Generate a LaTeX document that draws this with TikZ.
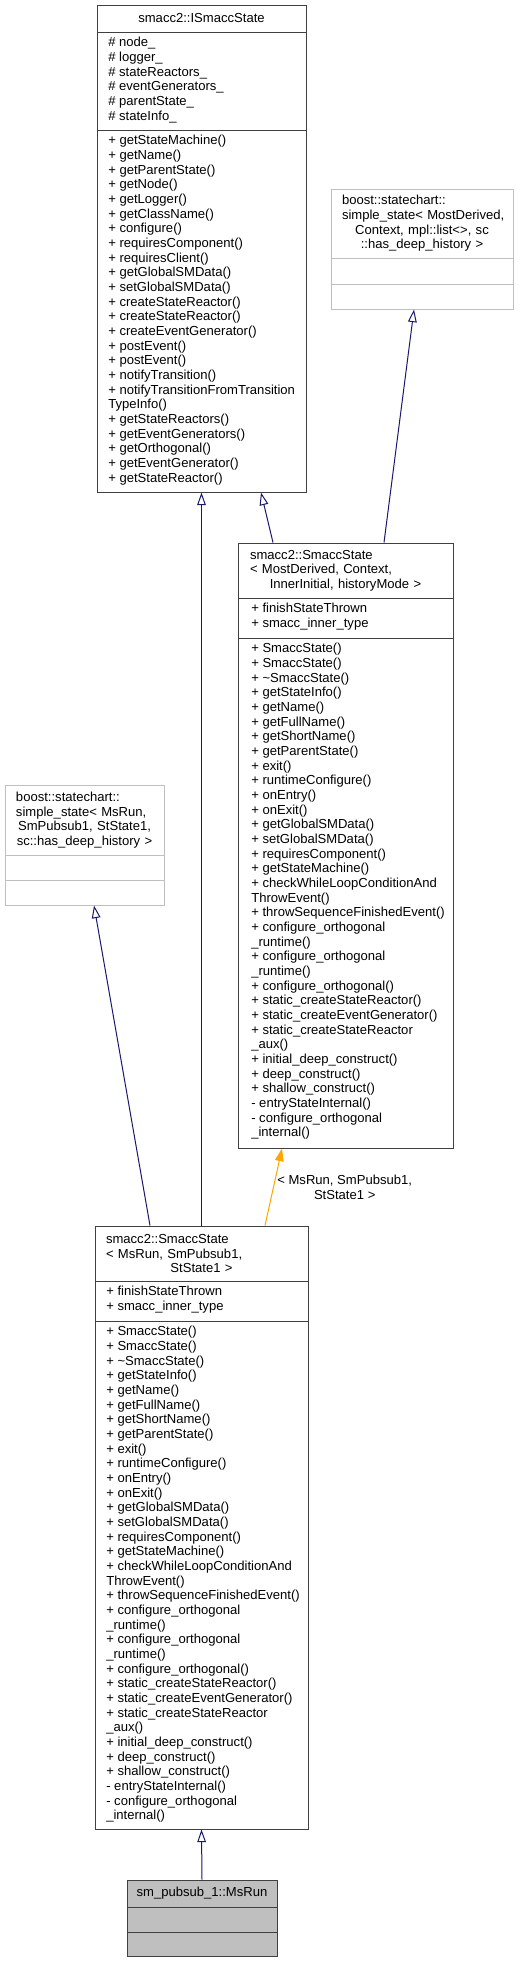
\documentclass[tikz,border=0pt]{standalone}
\usepackage{fontspec}
\setmainfont{Liberation Sans}
\usetikzlibrary{arrows.meta,calc,fit}
\definecolor{EdgeBlue}{HTML}{191970}
\definecolor{EdgeOrange}{HTML}{FFA500}
\definecolor{GreyFill}{HTML}{BFBFBF}
\definecolor{BoxBorder}{HTML}{404040}

\newcommand{\flushln}[1]{\makebox[\linewidth][l]{#1}}
\newcommand{\centerln}[1]{\makebox[\linewidth][c]{#1}}

% membros partilhados pelas duas caixas SmaccState
\newcommand{\SmaccStateAttrs}{+ finishStateThrown\\+ smacc\_inner\_type}
\newcommand{\SmaccStateOps}{%
+ SmaccState()\\+ SmaccState()\\+ \textasciitilde SmaccState()\\+ getStateInfo()\\%
+ getName()\\+ getFullName()\\+ getShortName()\\+ getParentState()\\+ exit()\\%
+ runtimeConfigure()\\+ onEntry()\\+ onExit()\\+ getGlobalSMData()\\%
+ setGlobalSMData()\\+ requiresComponent()\\+ getStateMachine()\\%
+ checkWhileLoopConditionAnd\\ThrowEvent()\\+ throwSequenceFinishedEvent()\\%
+ configure\_orthogonal\\\_runtime()\\+ configure\_orthogonal\\\_runtime()\\%
+ configure\_orthogonal()\\+ static\_createStateReactor()\\%
+ static\_createEventGenerator()\\+ static\_createStateReactor\\\_aux()\\%
+ initial\_deep\_construct()\\+ deep\_construct()\\+ shallow\_construct()\\%
- entryStateInternal()\\- configure\_orthogonal\\\_internal()}

\begin{document}
\begin{tikzpicture}[
    x=0.75pt, y=-0.75pt,
    font=\fontsize{9.8}{11}\selectfont,
    classbox/.style={draw=BoxBorder, fill=white, line width=0.75pt, inner sep=0pt},
    extbox/.style={classbox, draw=GreyFill},
    curbox/.style={classbox, fill=GreyFill},
    rowline/.style={draw=BoxBorder, line width=0.75pt},
    extline/.style={draw=GreyFill, line width=0.75pt},
    heading/.style={align=center, inner sep=0pt},
    members/.style={anchor=north west, align=left, inner sep=0pt},
    inherit/.style={draw=EdgeBlue, line width=0.75pt, -{Triangle[open, length=9.5pt, width=6.5pt]}},
    instance/.style={draw=EdgeOrange, line width=0.75pt, -{Triangle[length=9.5pt, width=6.5pt, fill=EdgeOrange]}}
]
  \fill[white] (0,0) rectangle (519,1963);
  \useasboundingbox (0,0) rectangle (519,1963);

  % =========================================================================
  % smacc2::ISmaccState
  % =========================================================================
  \node[classbox, fit={(97,5) (306,492)}] (istate) {};
  \draw[rowline] (97,32) -- (306,32);
  \draw[rowline] (97,130) -- (306,130);
  \node[heading] (istate_name) at (201.5,18.5) {smacc2::ISmaccState};
  \node[members] (istate_attr) at (108,37) {\# node\_\\\# logger\_\\\# stateReactors\_\\\# eventGenerators\_\\\# parentState\_\\\# stateInfo\_};
  \node[members] (istate_ops) at (108,135) {+ getStateMachine()\\+ getName()\\+ getParentState()\\+ getNode()\\+ getLogger()\\+ getClassName()\\+ configure()\\+ requiresComponent()\\+ requiresClient()\\+ getGlobalSMData()\\+ setGlobalSMData()\\+ createStateReactor()\\+ createStateReactor()\\+ createEventGenerator()\\+ postEvent()\\+ postEvent()\\+ notifyTransition()\\+ notifyTransitionFromTransition\\TypeInfo()\\+ getStateReactors()\\+ getEventGenerators()\\+ getOrthogonal()\\+ getEventGenerator()\\+ getStateReactor()};

  % =========================================================================
  % boost::statechart::simple_state (template)
  % =========================================================================
  \node[extbox, fit={(331,189) (513,309)}] (btmpl) {};
  \draw[extline] (331,258) -- (513,258);
  \draw[extline] (331,284) -- (513,284);
  \node[heading, text width=120pt] (btmpl_name) at (422,223.5) {\flushln{boost::statechart::}\\\flushln{simple\_state< MostDerived,}\\\centerln{Context, mpl::list<>, sc}\\\centerln{::has\_deep\_history >}};

  % =========================================================================
  % smacc2::SmaccState (template)
  % =========================================================================
  \node[classbox, fit={(238,543) (453,1148)}] (stmpl) {};
  \draw[rowline] (238,598) -- (453,598);
  \draw[rowline] (238,638) -- (453,638);
  \node[heading, text width=143.25pt] (stmpl_name) at (345.5,570.5) {\flushln{smacc2::SmaccState}\\\flushln{< MostDerived, Context,}\\\centerln{InnerInitial, historyMode >}};
  \node[members] (stmpl_attr) at (251,603) {\SmaccStateAttrs};
  \node[members] (stmpl_ops) at (251,643) {\SmaccStateOps};

  % =========================================================================
  % boost::statechart::simple_state< MsRun, ... >
  % =========================================================================
  \node[extbox, fit={(5,785) (164,905)}] (bsub) {};
  \draw[extline] (5,855) -- (164,855);
  \draw[extline] (5,880) -- (164,880);
  \node[heading, text width=102.75pt] (bsub_name) at (84.5,820) {\flushln{boost::statechart::}\\\flushln{simple\_state< MsRun,}\\\centerln{SmPubsub1, StState1,}\\\centerln{sc::has\_deep\_history >}};

  % =========================================================================
  % smacc2::SmaccState< MsRun, SmPubsub1, StState1 >
  % =========================================================================
  \node[classbox, fit={(95,1226) (308,1829)}] (ssub) {};
  \draw[rowline] (95,1281) -- (308,1281);
  \draw[rowline] (95,1321) -- (308,1321);
  \node[heading, text width=143.25pt] (ssub_name) at (201.5,1253.5) {\flushln{smacc2::SmaccState}\\\flushln{< MsRun, SmPubsub1,}\\\centerln{StState1 >}};
  \node[members] (ssub_attr) at (106,1286) {\SmaccStateAttrs};
  \node[members] (ssub_ops) at (106,1326) {\SmaccStateOps};

  % =========================================================================
  % sm_pubsub_1::MsRun
  % =========================================================================
  \node[curbox, fit={(127,1880) (277,1956)}] (msrun) {};
  \draw[rowline] (127,1907) -- (277,1907);
  \draw[rowline] (127,1932) -- (277,1932);
  \node[heading] (msrun_name) at (202,1893.5) {sm\_pubsub\_1::MsRun};

  % heranca
  \draw[inherit] (msrun.north) -- (ssub.south);
  \draw[inherit] (ssub.north) -- (istate.south);
  \draw[inherit] ($(ssub.north)+(-51.5,0)$) -- ($(bsub.south)+(9.5,0)$);
  \draw[inherit] ($(stmpl.north)+(-72.5,0)$) -- ($(istate.south)+(59.5,0)$);
  \draw[inherit] ($(stmpl.north)+(38.5,0)$) -- ($(btmpl.south)+(-8,0)$);

  % instanciacao do template
  \draw[instance] ($(ssub.north)+(63.5,0)$) -- ($(stmpl.south)+(-63.5,0)$)
    node[pos=0.5, anchor=west, xshift=2.5pt, align=center, inner sep=0pt] (inst_lbl) {< MsRun, SmPubsub1,\\StState1 >};

\end{tikzpicture}
\end{document}
